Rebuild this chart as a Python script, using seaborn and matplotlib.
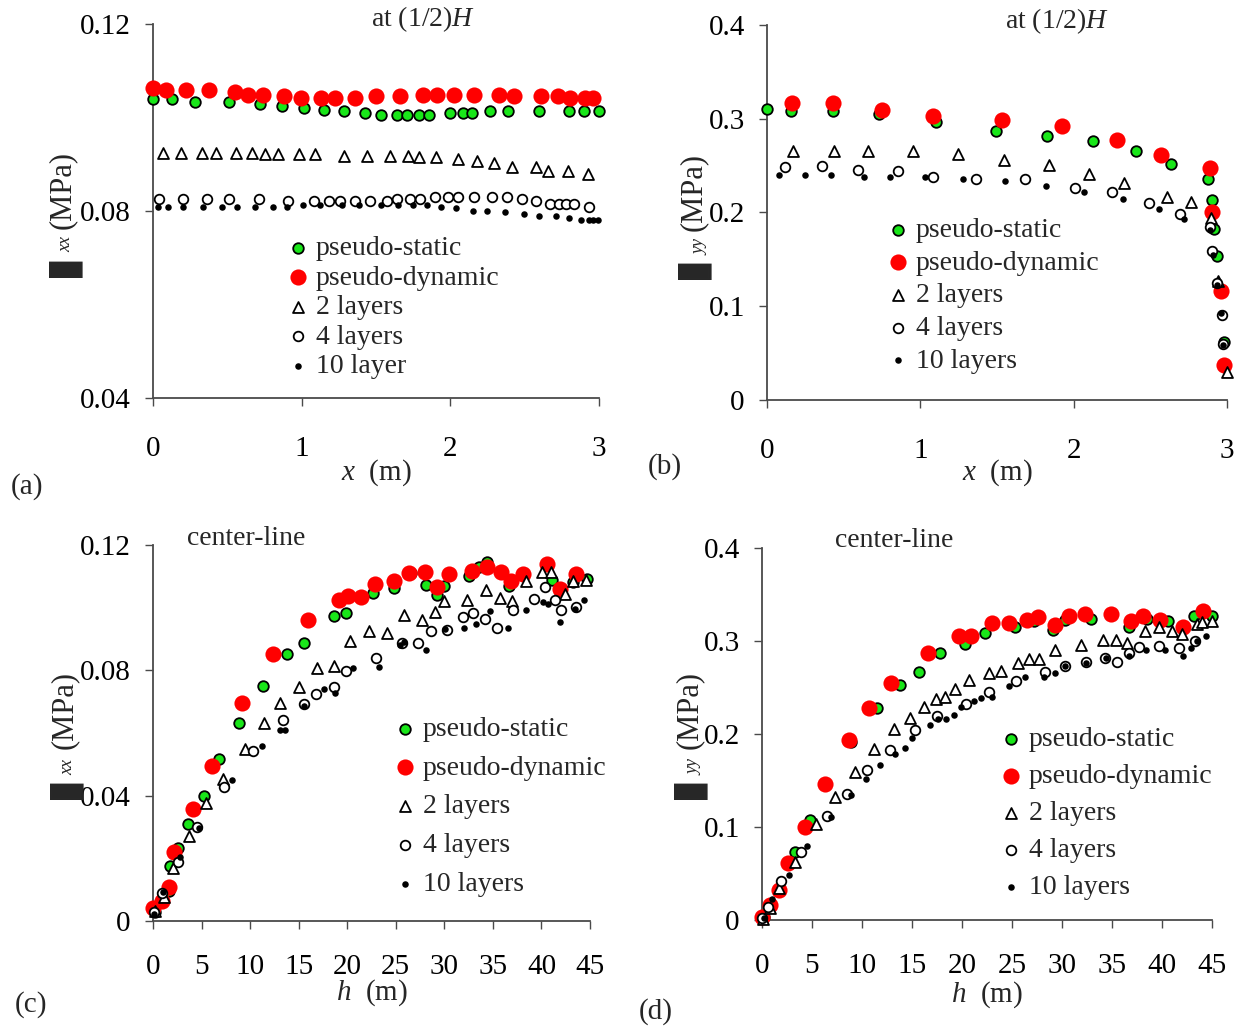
import matplotlib
matplotlib.use('Agg')
import matplotlib.pyplot as plt
import seaborn as sns

# ---------------- data ----------------
# panel (a): sigma_xx at (1/2)H vs x
a_ps_x = [0.0, 0.125, 0.284, 0.510, 0.722, 0.871, 1.017, 1.150, 1.288, 1.426, 1.534, 1.638, 1.707, 1.787, 1.858,
          1.999, 2.084, 2.145, 2.265, 2.389, 2.594, 2.801, 2.902, 3.0]
a_ps_y = [0.1039, 0.1039, 0.1034, 0.1034, 0.1029, 0.1025, 0.1021, 0.1017, 0.1014, 0.1010, 0.1006, 0.1006, 0.1006,
          0.1006, 0.1006, 0.1010, 0.1010, 0.1010, 0.1014, 0.1014, 0.1014, 0.1014, 0.1014, 0.1014]
a_pd_x = [0.0, 0.088, 0.22, 0.377, 0.55, 0.637, 0.743, 0.884, 0.995, 1.133, 1.221, 1.362, 1.50, 1.664, 1.818, 1.911,
          2.025, 2.158, 2.328, 2.429, 2.61, 2.721, 2.806, 2.907, 2.96]
a_pd_y = [0.1064, 0.1059, 0.1059, 0.1059, 0.1054, 0.1049, 0.1049, 0.1046, 0.1042, 0.1042, 0.1042, 0.1042, 0.1046,
          0.1046, 0.1049, 0.1049, 0.1049, 0.1049, 0.1049, 0.1046, 0.1046, 0.1046, 0.1042, 0.1042, 0.1042]
a_2l_x = [0.066, 0.191, 0.332, 0.425, 0.557, 0.664, 0.751, 0.842, 0.982, 1.088, 1.282, 1.441, 1.593, 1.712, 1.787,
          1.903, 2.052, 2.177, 2.291, 2.416, 2.575, 2.655, 2.793, 2.928]
a_2l_y = [0.0925, 0.0925, 0.0925, 0.0925, 0.0925, 0.0925, 0.0922, 0.0922, 0.0922, 0.0922, 0.0918, 0.0918, 0.0918,
          0.0918, 0.0915, 0.0915, 0.0911, 0.0906, 0.0902, 0.0895, 0.0895, 0.0886, 0.0886, 0.0879]
a_4l_x = [0.04, 0.199, 0.364, 0.512, 0.711, 0.911, 1.083, 1.187, 1.261, 1.362, 1.460, 1.574, 1.638, 1.726, 1.797,
          1.898, 1.986, 2.049, 2.158, 2.283, 2.384, 2.482, 2.575, 2.668, 2.734, 2.779, 2.832, 2.933]
a_4l_y = [0.0826, 0.0826, 0.0826, 0.0826, 0.0826, 0.0821, 0.0821, 0.0821, 0.0821, 0.0821, 0.0821, 0.0821, 0.0825,
          0.0826, 0.0826, 0.0829, 0.0829, 0.0829, 0.0829, 0.0829, 0.0829, 0.0825, 0.0821, 0.0816, 0.0814, 0.0814,
          0.0814, 0.0809]
a_10_x = [0.035, 0.098, 0.199, 0.337, 0.465, 0.565, 0.685, 0.810, 0.903, 1.009, 1.123, 1.274, 1.388, 1.532, 1.646,
          1.747, 1.845, 1.938, 2.036, 2.150, 2.248, 2.371, 2.495, 2.594, 2.708, 2.801, 2.880, 2.933, 2.960, 2.992]
a_10_y = [0.0809, 0.0809, 0.0809, 0.0809, 0.0809, 0.0809, 0.0809, 0.0809, 0.0809, 0.0813, 0.0813, 0.0813, 0.0813,
          0.0813, 0.0813, 0.0813, 0.0813, 0.0809, 0.0806, 0.0801, 0.0801, 0.0798, 0.0793, 0.0789, 0.0789, 0.0784,
          0.0781, 0.0781, 0.0781, 0.0781]

# panel (b): sigma_yy at (1/2)H vs x
b_ps_x = [0.0, 0.156, 0.428, 0.731, 1.102, 1.491, 1.828, 2.126, 2.406, 2.632, 2.878, 2.904, 2.917, 2.938, 2.982]
b_ps_y = [0.310, 0.308, 0.308, 0.305, 0.297, 0.287, 0.282, 0.276, 0.266, 0.252, 0.236, 0.213, 0.182, 0.154, 0.062]
b_pd_x = [0.161, 0.428, 0.752, 1.084, 1.535, 1.924, 2.282, 2.572, 2.891, 2.899, 2.961, 2.982]
b_pd_y = [0.317, 0.317, 0.309, 0.303, 0.299, 0.292, 0.277, 0.261, 0.247, 0.200, 0.116, 0.037]
b_2l_x = [0.169, 0.436, 0.661, 0.954, 1.245, 1.543, 1.836, 2.100, 2.328, 2.606, 2.766, 2.896, 2.943, 3.0]
b_2l_y = [0.266, 0.266, 0.266, 0.266, 0.262, 0.256, 0.251, 0.241, 0.231, 0.217, 0.211, 0.194, 0.127, 0.030]
b_4l_x = [0.117, 0.358, 0.596, 0.856, 1.084, 1.361, 1.685, 2.009, 2.250, 2.489, 2.696, 2.886, 2.899, 2.935, 2.965,
          2.974]
b_4l_y = [0.248, 0.250, 0.245, 0.244, 0.238, 0.236, 0.236, 0.226, 0.222, 0.210, 0.198, 0.185, 0.159, 0.125, 0.091,
          0.060]
b_10_x = [0.078, 0.246, 0.420, 0.635, 0.804, 1.032, 1.276, 1.550, 1.820, 2.069, 2.320, 2.554, 2.722, 2.891, 2.910,
          2.938, 2.960, 2.972]
b_10_y = [0.240, 0.240, 0.240, 0.238, 0.238, 0.238, 0.236, 0.234, 0.228, 0.222, 0.214, 0.204, 0.193, 0.181, 0.155,
          0.123, 0.093, 0.059]

# panel (c): sigma_xx along center-line vs h
c_ps_x = [0.2, 1.6, 1.8, 2.6, 3.6, 5.3, 6.8, 8.9, 11.3, 13.8, 15.5, 18.6, 19.9, 22.7, 24.8, 26.6, 28.1, 29.2, 30.0,
          32.5, 33.6, 34.4, 36.7, 41.1, 43.2, 44.7]
c_ps_y = [0.0030, 0.0095, 0.0176, 0.0234, 0.0311, 0.0398, 0.0516, 0.0633, 0.0750, 0.0851, 0.0887, 0.0974, 0.0982,
          0.1046, 0.1063, 0.1110, 0.1071, 0.1042, 0.1069, 0.1101, 0.1130, 0.1145, 0.1070, 0.1089, 0.1083, 0.1091]
c_pd_x = [0.0, 0.9, 1.6, 2.2, 4.1, 6.1, 9.2, 12.4, 16.0, 19.2, 20.1, 21.4, 22.9, 24.8, 26.4, 28.0, 29.2, 30.5, 32.9,
          34.4, 35.8, 36.9, 38.1, 40.6, 41.9, 43.6]
c_pd_y = [0.0040, 0.0064, 0.0107, 0.0219, 0.0356, 0.0495, 0.0697, 0.0851, 0.0960, 0.1023, 0.1036, 0.1034, 0.1076,
          0.1084, 0.1112, 0.1114, 0.1065, 0.1106, 0.1118, 0.1131, 0.1114, 0.1084, 0.1108, 0.1140, 0.1059, 0.1108]
c_2l_x = [0.24, 1.1, 2.1, 3.7, 5.5, 7.2, 9.5, 11.4, 13.1, 15.0, 16.9, 18.6, 20.3, 22.2, 24.1, 25.8, 27.7, 29.0, 30.0,
          32.3, 34.3, 35.7, 37.0, 38.4, 40.1, 41.0, 42.4, 43.3, 44.6]
c_2l_y = [0.0033, 0.0078, 0.0170, 0.0271, 0.0377, 0.0453, 0.0548, 0.0631, 0.0696, 0.0747, 0.0807, 0.0813, 0.0895,
          0.0927, 0.0919, 0.0978, 0.0962, 0.0986, 0.1021, 0.1025, 0.1055, 0.1032, 0.1021, 0.1085, 0.1113, 0.1113,
          0.1044, 0.1085, 0.1089]
c_4l_x = [0.07, 0.9, 2.6, 4.5, 7.3, 10.3, 13.4, 15.5, 16.8, 18.6, 19.9, 23.0, 25.6, 27.3, 28.6, 30.3, 31.9, 33.0,
          34.2, 35.4, 37.1, 39.2, 40.4, 41.4, 42.0, 43.6]
c_4l_y = [0.0028, 0.0089, 0.0188, 0.0300, 0.0427, 0.0541, 0.0641, 0.0694, 0.0726, 0.0747, 0.0797, 0.0840, 0.0887,
          0.0887, 0.0925, 0.0930, 0.0970, 0.0983, 0.0965, 0.0936, 0.0993, 0.1028, 0.1065, 0.1023, 0.0993, 0.1002]
c_10_x = [0.14, 1.0, 2.8, 4.7, 8.1, 11.2, 13.1, 13.6, 15.5, 17.6, 18.7, 20.6, 23.3, 25.4, 25.8, 28.1, 30.1, 32.0,
          33.3, 34.7, 36.6, 38.4, 40.2, 40.7, 41.9, 43.5, 44.4]
c_10_y = [0.0022, 0.0093, 0.0205, 0.0297, 0.0451, 0.0557, 0.0609, 0.0609, 0.0687, 0.0741, 0.0728, 0.0808, 0.0810,
          0.0880, 0.0890, 0.0864, 0.0933, 0.0936, 0.0949, 0.0989, 0.0936, 0.0993, 0.1018, 0.1012, 0.0954, 0.0997,
          0.1023]

# panel (d): sigma_yy along center-line vs h
d_ps_x = [0.2, 3.3, 4.8, 8.9, 11.5, 13.8, 15.7, 17.8, 20.3, 22.3, 25.3, 27.2, 29.1, 30.3, 32.9, 36.7, 38.5, 40.6,
          43.2, 45.0]
d_ps_y = [0.003, 0.0735, 0.108, 0.191, 0.228, 0.253, 0.267, 0.287, 0.297, 0.309, 0.315, 0.322, 0.312, 0.323, 0.324,
          0.315, 0.324, 0.321, 0.327, 0.327]
d_pd_x = [0.0, 0.8, 1.7, 2.6, 4.3, 6.3, 8.7, 10.7, 12.9, 16.6, 19.7, 20.9, 23.0, 24.7, 26.5, 27.6, 29.3, 30.7, 32.3,
          34.9, 36.9, 38.1, 39.8, 42.1, 44.1]
d_pd_y = [0.0036, 0.0161, 0.0323, 0.0609, 0.0996, 0.146, 0.194, 0.228, 0.255, 0.287, 0.305, 0.305, 0.319, 0.319,
          0.323, 0.326, 0.317, 0.327, 0.329, 0.329, 0.321, 0.327, 0.323, 0.315, 0.332]
d_2l_x = [0.1, 0.8, 1.7, 3.3, 5.4, 7.3, 9.3, 11.2, 13.2, 14.8, 16.2, 17.4, 18.3, 19.3, 20.7, 22.7, 23.9, 25.6, 26.7,
          27.7, 29.3, 31.9, 34.1, 35.4, 36.5, 38.3, 39.7, 41.0, 42.0, 43.5, 44.0, 45.0]
d_2l_y = [0.001, 0.0125, 0.0341, 0.0627, 0.103, 0.132, 0.159, 0.184, 0.205, 0.217, 0.229, 0.238, 0.240, 0.248,
          0.258, 0.266, 0.268, 0.276, 0.281, 0.281, 0.290, 0.296, 0.301, 0.301, 0.298, 0.311, 0.315, 0.311, 0.308,
          0.318, 0.320, 0.321]
d_4l_x = [0.0, 0.6, 1.9, 3.9, 6.5, 8.5, 10.5, 12.8, 15.3, 17.5, 20.4, 22.7, 25.4, 28.3, 30.3, 32.4, 34.3, 35.5,
          36.7, 37.7, 39.7, 41.7, 43.3]
d_4l_y = [0.0018, 0.0143, 0.0423, 0.0735, 0.112, 0.135, 0.161, 0.183, 0.204, 0.219, 0.232, 0.245, 0.257, 0.267,
          0.273, 0.277, 0.282, 0.277, 0.287, 0.294, 0.295, 0.292, 0.300]
d_10_x = [0.2, 1.0, 2.7, 4.5, 6.9, 8.9, 10.4, 11.8, 13.3, 14.3, 15.0, 16.8, 17.6, 18.4, 19.2, 19.9, 21.2, 21.9,
          23.0, 24.7, 26.3, 28.2, 29.3, 30.3, 32.4, 34.4, 36.7, 38.4, 40.3, 42.1, 42.9, 43.5, 44.4]
d_10_y = [0.002, 0.0222, 0.0484, 0.0796, 0.111, 0.134, 0.152, 0.167, 0.179, 0.185, 0.196, 0.210, 0.216, 0.216,
          0.220, 0.229, 0.235, 0.239, 0.240, 0.252, 0.261, 0.261, 0.266, 0.273, 0.276, 0.282, 0.284, 0.290, 0.290,
          0.284, 0.292, 0.300, 0.305]

labels_a = ['pseudo-static', 'pseudo-dynamic', '2 layers', '4 layers', '10 layer']
labels_bcd = ['pseudo-static', 'pseudo-dynamic', '2 layers', '4 layers', '10 layers']

x_ticks_ab = [0, 1, 2, 3]
x_ticklabels_ab = ['0', '1', '2', '3']
x_ticks_cd = [0, 5, 10, 15, 20, 25, 30, 35, 40, 45]
x_ticklabels_cd = ['0', '5', '10', '15', '20', '25', '30', '35', '40', '45']
y_ticks_a = [0.04, 0.08, 0.12]
y_ticklabels_a = ['0.04', '0.08', '0.12']
y_ticks_c = [0, 0.04, 0.08, 0.12]
y_ticklabels_c = ['0', '0.04', '0.08', '0.12']
y_ticks_bd = [0, 0.1, 0.2, 0.3, 0.4]
y_ticklabels_bd = ['0', '0.1', '0.2', '0.3', '0.4']

# ---------------- style ----------------
W, H = 1243, 1028
sns.set_theme(style='ticks')
plt.rcParams['font.family'] = ['Liberation Serif', 'DejaVu Sans']
plt.rcParams['mathtext.fontset'] = 'custom'
plt.rcParams['mathtext.rm'] = 'Liberation Serif'
plt.rcParams['mathtext.it'] = 'Liberation Serif:italic'
plt.rcParams['axes.unicode_minus'] = False

fig = plt.figure(figsize=(W / 100, H / 100), dpi=100)
fig.patch.set_facecolor('white')

AX_COL = '#4a4a4a'
GREEN = '#19E619'
RED = '#FF0000'

styles = [
    dict(marker='o', s=58, color=GREEN, edgecolor='black', linewidth=1.3),
    dict(marker='o', s=135, color=RED, edgecolor=RED, linewidth=0.0),
    dict(marker='^', s=62, color='white', edgecolor='black', linewidth=1.3),
    dict(marker='o', s=48, color='white', edgecolor='black', linewidth=1.3),
    dict(marker='o', s=22, color='black', edgecolor='black', linewidth=0.0),
]


def fxp(px):
    return px / W


def fyp(py):
    return 1 - py / H


def make_axes(l, t, r, b):
    ax = fig.add_axes([fxp(l), fyp(b), (r - l) / W, (b - t) / H])
    ax.set_facecolor('white')
    return ax


def draw_panel(ax, series, labels, xlim, ylim, xt, xtl, yt, ytl, xpad):
    for i, ((xs, ys), lab) in enumerate(zip(series, labels)):
        st = styles[i]
        sns.scatterplot(x=xs, y=ys, ax=ax, marker=st['marker'], s=st['s'], color=st['color'],
                        edgecolor=st['edgecolor'], linewidth=st['linewidth'], label=lab,
                        clip_on=False, zorder=3 + i)
    ax.set_xlim(*xlim)
    ax.set_ylim(*ylim)
    ax.set_xticks(xt)
    ax.set_xticklabels(xtl)
    ax.set_yticks(yt)
    ax.set_yticklabels(ytl)
    for side in ['top', 'right']:
        ax.spines[side].set_visible(False)
    for side in ['left', 'bottom']:
        ax.spines[side].set_color(AX_COL)
        ax.spines[side].set_linewidth(1.3)
    ax.tick_params(axis='both', direction='out', length=6, width=1.0, color=AX_COL,
                   labelsize=21, labelcolor='black')
    ax.tick_params(axis='x', pad=xpad)
    ax.tick_params(axis='y', pad=10)
    ax.grid(False)


def add_legend(ax, mx, my, spacing):
    fs_px = 20 * 100 / 72
    left = mx - 0.4 * fs_px
    top = my - 12.5
    leg = ax.legend(loc='upper left', bbox_to_anchor=(fxp(left), fyp(top)), bbox_transform=fig.transFigure,
                    frameon=False, fontsize=20, handlelength=0.8, handletextpad=0.25,
                    labelspacing=spacing, borderpad=0, borderaxespad=0, scatterpoints=1)
    return leg


def add_ylabel(cx_mpa, cy_mpa, cx_sub, cy_sub, cx_box, cy_box, sub):
    fig.text(fxp(cx_mpa), fyp(cy_mpa), '(MPa)', rotation=90, ha='center', va='center', fontsize=22)
    fig.text(fxp(cx_sub), fyp(cy_sub), sub, rotation=90, ha='center', va='center', fontsize=13,
             fontstyle='italic')
    fig.text(fxp(cx_box), fyp(cy_box), '\u25AE', rotation=90, ha='center', va='center', fontsize=32,
             family=['DejaVu Sans'])


# ---------------- panel (a) ----------------
ax_a = make_axes(153, 24, 599, 398)
draw_panel(ax_a, [(a_ps_x, a_ps_y), (a_pd_x, a_pd_y), (a_2l_x, a_2l_y), (a_4l_x, a_4l_y), (a_10_x, a_10_y)],
           labels_a, (0, 3), (0.04, 0.12), x_ticks_ab, x_ticklabels_ab, y_ticks_a, y_ticklabels_a, 21)
ax_a.set_xlabel('$x$  (m)', fontsize=21)
ax_a.xaxis.label.set_verticalalignment('center')
ax_a.xaxis.set_label_coords(0.5, (398 - 473) / 374)
ax_a.text(0.605, 1.013, 'at (1/2)$H$', transform=ax_a.transAxes, ha='center', va='center', fontsize=20)
add_legend(ax_a, 298, 248, 0.15)
add_ylabel(62, 190, 66, 244, 61, 265, 'xx')

# ---------------- panel (b) ----------------
ax_b = make_axes(767, 25, 1227, 400)
draw_panel(ax_b, [(b_ps_x, b_ps_y), (b_pd_x, b_pd_y), (b_2l_x, b_2l_y), (b_4l_x, b_4l_y), (b_10_x, b_10_y)],
           labels_bcd, (0, 3), (0, 0.4), x_ticks_ab, x_ticklabels_ab, y_ticks_bd, y_ticklabels_bd, 21)
ax_b.set_xlabel('$x$  (m)', fontsize=21)
ax_b.xaxis.label.set_verticalalignment('center')
ax_b.xaxis.set_label_coords(0.5, (400 - 473) / 375)
ax_b.text(0.630, 1.011, 'at (1/2)$H$', transform=ax_b.transAxes, ha='center', va='center', fontsize=20)
add_legend(ax_b, 898, 230, 0.26)
add_ylabel(693, 192, 700, 247, 690, 267, 'yy')

# ---------------- panel (c) ----------------
ax_c = make_axes(153, 545, 590, 921)
draw_panel(ax_c, [(c_ps_x, c_ps_y), (c_pd_x, c_pd_y), (c_2l_x, c_2l_y), (c_4l_x, c_4l_y), (c_10_x, c_10_y)],
           labels_bcd, (0, 45), (0, 0.12), x_ticks_cd, x_ticklabels_cd, y_ticks_c, y_ticklabels_c, 18)
ax_c.set_xlabel('$h$  (m)', fontsize=21)
ax_c.xaxis.label.set_verticalalignment('center')
ax_c.xaxis.set_label_coords(0.5, (921 - 993) / 376)
ax_c.text(0.213, 1.017, 'center-line', transform=ax_c.transAxes, ha='center', va='center', fontsize=20)
add_legend(ax_c, 405, 729, 0.48)
add_ylabel(64, 710, 68, 767, 62, 787, 'xx')

# ---------------- panel (d) ----------------
ax_d = make_axes(762, 548, 1212, 920)
draw_panel(ax_d, [(d_ps_x, d_ps_y), (d_pd_x, d_pd_y), (d_2l_x, d_2l_y), (d_4l_x, d_4l_y), (d_10_x, d_10_y)],
           labels_bcd, (0, 45), (0, 0.4), x_ticks_cd, x_ticklabels_cd, y_ticks_bd, y_ticklabels_bd, 18)
ax_d.set_xlabel('$h$  (m)', fontsize=21)
ax_d.xaxis.label.set_verticalalignment('center')
ax_d.xaxis.set_label_coords(0.5, (920 - 995) / 372)
ax_d.text(0.293, 1.019, 'center-line', transform=ax_d.transAxes, ha='center', va='center', fontsize=20)
add_legend(ax_d, 1011, 739, 0.42)
add_ylabel(689, 710, 694, 767, 686, 787, 'yy')

# ---------------- panel letters ----------------
for txt, px, py in [('(a)', 27, 487), ('(b)', 665, 467), ('(c)', 31, 1005), ('(d)', 656, 1012)]:
    fig.text(fxp(px), fyp(py), txt, ha='center', va='center', fontsize=21)

fig.savefig('out.png', dpi=100, facecolor='white')
